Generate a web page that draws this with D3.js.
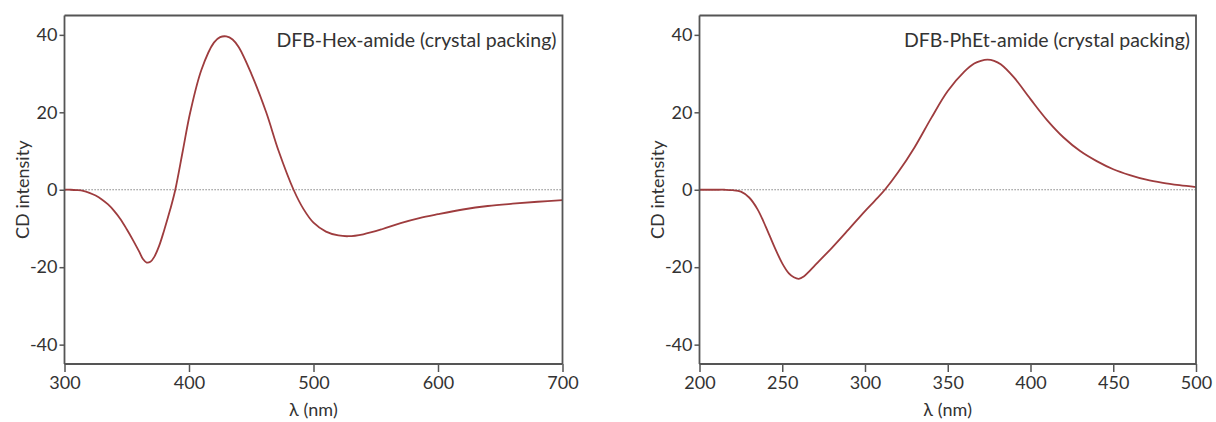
<!DOCTYPE html>
<html>
<head>
<meta charset="utf-8">
<style>
  body { margin: 0; background: #fff; }
  svg text { font-family: Lato, "Open Sans", sans-serif; fill: #333; }
</style>
<script src="https://d3js.org/d3.v7.min.js"></script>
</head>
<body>
<svg width="1216" height="422"></svg>
<script>
// DFB-Hex-amide, wavelength (nm) and CD intensity
var hexWl = [300, 305, 310, 315, 320, 325, 330, 335, 340, 345, 350, 355, 360, 363, 366, 369, 372, 376, 380, 385, 389,
             395, 401, 410, 420, 425, 430, 435, 440, 450, 462, 472, 484, 492, 500, 510, 520, 528, 540, 555,
             570, 585, 600, 620, 640, 660, 680, 700];
var hexCd = [0, 0, -0.1, -0.3, -0.8, -1.5, -2.5, -3.8, -5.5, -7.6, -10.2, -13, -16, -17.9, -18.8, -18.6, -17.4, -14.5, -10.5, -5, 0,
             10, 20, 31, 38, 39.4, 39.6, 38.8, 36.8, 30, 20, 10, 0, -5, -8.5, -10.8, -11.8, -12, -11.5, -10.2,
             -8.6, -7.3, -6.3, -5.1, -4.2, -3.6, -3.1, -2.7];

// DFB-PhEt-amide
var phetWl = [200, 210, 215, 220, 225, 230, 235, 240, 245, 250, 254, 257, 260, 263, 266, 270, 280, 290, 300, 306, 312,
              320, 330, 340, 350, 360, 366, 370, 374, 378, 382, 390, 400, 410, 420, 430, 440, 450, 460, 470,
              480, 490, 500];
var phetCd = [0, 0, 0, -0.1, -0.5, -2, -5, -9.5, -14.5, -19, -21.6, -22.6, -23, -22.4, -21.2, -19.4, -15, -10.3, -5.5, -2.8, 0,
              4.5, 11, 18.5, 25.5, 30.5, 32.6, 33.3, 33.6, 33.3, 32.4, 29, 23.4, 18, 13.5, 10, 7.4, 5.3, 3.8, 2.6,
              1.8, 1.2, 0.7];

var yTicks = [-40, -20, 0, 20, 40];
var hexTicks = [300, 400, 500, 600, 700];
var phetTicks = [200, 250, 300, 350, 400, 450, 500];

var svg = d3.select("svg");
var plotTop = 15.5, plotBottom = 364;
var fs = "18px";

function drawPanel(o) {
    var x = d3.scaleLinear().domain(o.xDomain).range([o.left, o.right]);
    var y = d3.scaleLinear().domain([-45, 45]).range([plotBottom, plotTop]);
    var g = svg.append("g");

    // zero line
    g.append("line")
        .attr("x1", x(o.xDomain[0])).attr("x2", x(o.xDomain[1]))
        .attr("y1", y(0)).attr("y2", y(0))
        .attr("stroke", "#666").attr("stroke-width", 1.2)
        .attr("stroke-dasharray", "1.2,1.8");

    // curve
    var pts = o.wl.map(function (d, i) { return [d, o.cd[i]]; });
    var line = d3.line()
        .x(function (d) { return x(d[0]); })
        .y(function (d) { return y(d[1]); })
        .curve(d3.curveCatmullRom.alpha(0.5));
    g.append("path")
        .datum(pts)
        .attr("d", line)
        .attr("fill", "none")
        .attr("stroke", "#9e3c3e")
        .attr("stroke-width", 1.8);

    // frame top + right
    g.append("path")
        .attr("d", "M" + x(o.xDomain[0]) + "," + y(45) + "H" + x(o.xDomain[1]) + "V" + y(-45))
        .attr("fill", "none").attr("stroke", "#555").attr("stroke-width", 1.8);

    var xa = g.append("g")
        .attr("transform", "translate(0," + plotBottom + ")")
        .call(d3.axisBottom(x).tickValues(o.ticks).tickSize(8).tickPadding(4).tickFormat(function (d) { return String(d); }));
    var ya = g.append("g")
        .attr("transform", "translate(" + o.left + ",0)")
        .call(d3.axisLeft(y).tickValues(yTicks).tickSize(5).tickPadding(2).tickFormat(function (d) { return String(d); }));
    [xa, ya].forEach(function (a) {
        a.select(".domain").attr("stroke", "#555").attr("stroke-width", 1.8);
        a.selectAll(".tick line").attr("stroke", "#555").attr("stroke-width", 1.5);
        a.selectAll(".tick text").attr("font-size", fs).attr("fill", "#333")
            .attr("font-family", "Lato, 'Open Sans', sans-serif");
    });
    ya.select(".domain").attr("d", "M0," + plotTop + "V" + plotBottom);
    xa.select(".domain").attr("d", "M" + o.left + ",0H" + o.right);

    g.append("text")
        .attr("x", (o.left + o.right) / 2)
        .attr("y", 416)
        .attr("text-anchor", "middle")
        .attr("font-size", fs)
        .text("λ (nm)");
    g.append("text")
        .attr("transform", "translate(" + (o.left - 36) + "," + ((plotTop + plotBottom) / 2) + ") rotate(-90)")
        .attr("text-anchor", "middle")
        .attr("font-size", fs)
        .text("CD intensity");
    g.append("text")
        .attr("x", o.right - 6)
        .attr("y", 47)
        .attr("text-anchor", "end")
        .attr("font-size", "19.5px")
        .text(o.title);
}

drawPanel({ left: 64.5, right: 562.5, xDomain: [300, 700], ticks: hexTicks,
            wl: hexWl, cd: hexCd, title: "DFB-Hex-amide (crystal packing)" });
drawPanel({ left: 699.5, right: 1196, xDomain: [200, 500], ticks: phetTicks,
            wl: phetWl, cd: phetCd, title: "DFB-PhEt-amide (crystal packing)" });
</script>
</body>
</html>
